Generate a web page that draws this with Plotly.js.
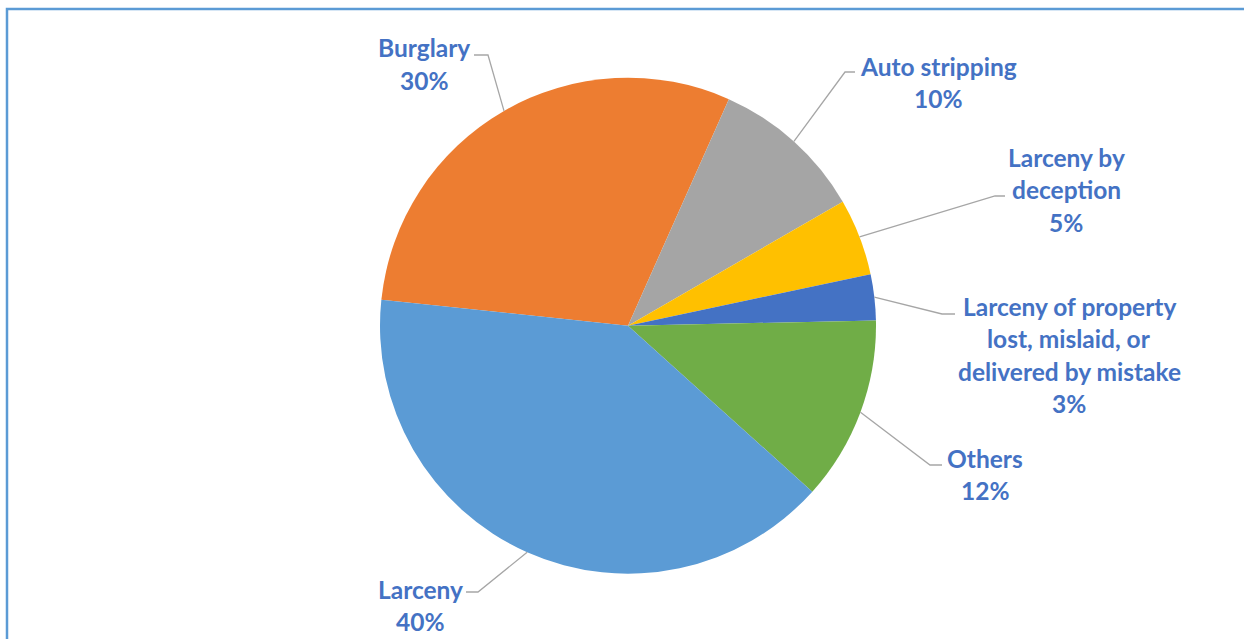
<!DOCTYPE html>
<html>
<head>
<meta charset="utf-8">
<script src="https://cdn.plot.ly/plotly-3.0.1.min.js"></script>
<style>html,body{margin:0;padding:0;background:#fff;}#chart{width:1244px;height:639px;}</style>
</head>
<body>
<div id="chart"></div>
<script>
// ---- data ----
const categories = ["Burglary", "Auto stripping", "Larceny by deception",
  "Larceny of property lost, mislaid, or delivered by mistake", "Others", "Larceny"];
const values = [30, 10, 5, 3, 12, 40];
const colors = ["#ED7D31", "#A5A5A5", "#FFC000", "#4472C4", "#70AD47", "#5B9BD5"];
const labelLines = [
  ["Burglary"],
  ["Auto stripping"],
  ["Larceny by", "deception"],
  ["Larceny of property", "lost, mislaid, or", "delivered by mistake"],
  ["Others"],
  ["Larceny"]
];

// ---- layout constants (pixels) ----
const W = 1244, H = 639;
const CX = 628, CY = 325.7, R = 248;
const ROT = 276;
// label block centre x, first line y, elbow point, text side end of leader
const labelPos = [
  {x: 424, y: 48, ex: 488, ey: 55, tx: 474},
  {x: 939, y: 66, ex: 845, ey: 72, tx: 855},
  {x: 1066, y: 157, ex: 995, ey: 196, tx: 1005},
  {x: 1069, y: 306, ex: 942, ey: 314, tx: 955},
  {x: 985, y: 458, ex: 930, ey: 465, tx: 942},
  {x: 420, y: 589, ex: 478, ey: 592, tx: 466}
];
const LINE_H = 32.5;
const FONT = {family: "Lato, 'Open Sans', sans-serif", size: 24.5, color: "#4472C4", weight: 700};

const px = v => v / W;
const py = v => 1 - v / H;

const total = values.reduce((a, b) => a + b, 0);
const annotations = [];
const shapes = [];

// frame
shapes.push({type: "rect", xref: "paper", yref: "paper",
  x0: px(7), x1: 1.02, y0: -0.02, y1: py(9),
  line: {color: "#5B9BD5", width: 2.5}, fillcolor: "rgba(0,0,0,0)", layer: "below"});

let cum = 0;
values.forEach((v, i) => {
  const mid = (ROT + (cum + v / 2) / total * 360) * Math.PI / 180;
  cum += v;
  const exy = CX + Math.sin(mid) * R, eyy = CY - Math.cos(mid) * R;
  const lp = labelPos[i];
  shapes.push({type: "path", xref: "paper", yref: "paper",
    path: `M ${px(lp.tx)} ${py(lp.ey)} L ${px(lp.ex)} ${py(lp.ey)} L ${px(exy)} ${py(eyy)}`,
    line: {color: "#A6A6A6", width: 1.3}});
  const lines = labelLines[i].concat([Math.round(v / total * 100) + "%"]);
  lines.forEach((t, j) => {
    annotations.push({xref: "paper", yref: "paper", x: px(lp.x), y: py(lp.y + j * LINE_H),
      xanchor: "center", yanchor: "middle", text: t, showarrow: false, font: FONT});
  });
});

const trace = {
  type: "pie",
  labels: categories,
  values: values,
  sort: false,
  direction: "clockwise",
  rotation: ROT,
  textinfo: "none",
  hoverinfo: "label+percent",
  marker: {colors: colors, line: {width: 0}},
  domain: {x: [px(CX - R), px(CX + R)], y: [(H - CY - R) / H, (H - CY + R) / H]}
};

Plotly.newPlot("chart", [trace], {
  width: W, height: H,
  margin: {l: 0, r: 0, t: 0, b: 0},
  showlegend: false,
  paper_bgcolor: "#fff",
  shapes: shapes,
  annotations: annotations
}, {displayModeBar: false, staticPlot: true});
</script>
</body>
</html>
